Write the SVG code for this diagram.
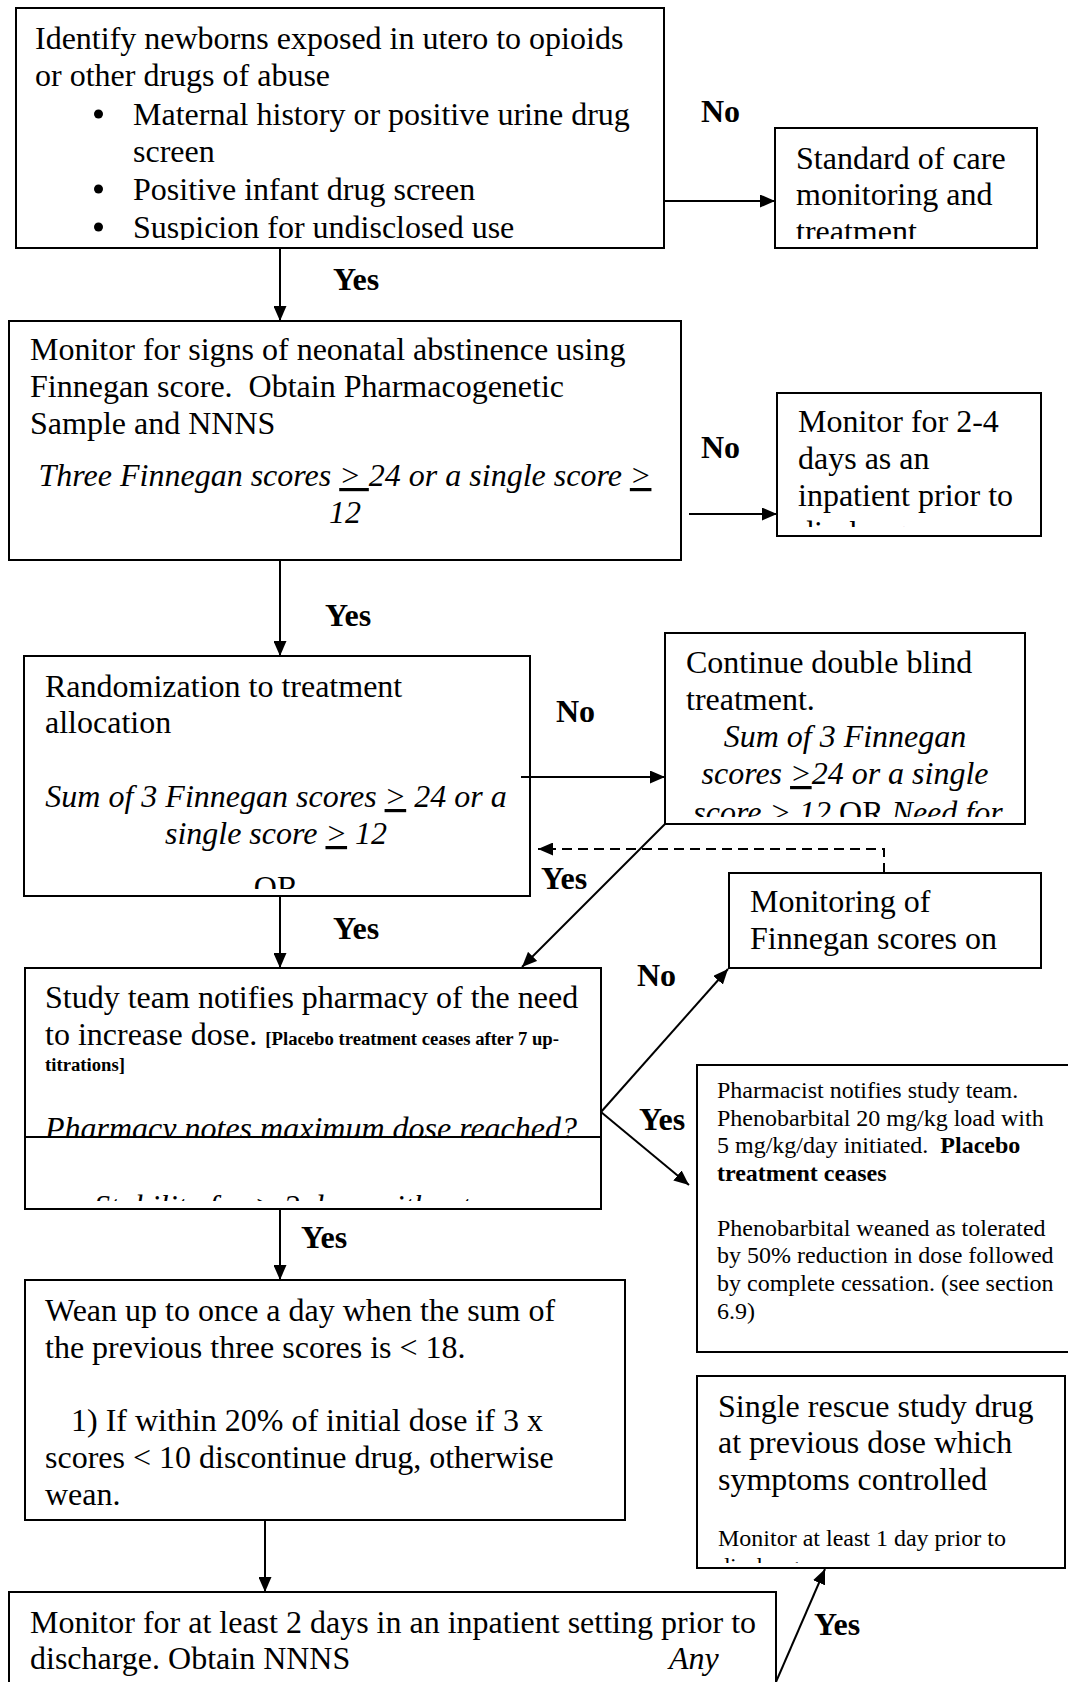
<svg xmlns="http://www.w3.org/2000/svg" width="1068" height="1682" viewBox="0 0 1068 1682">
<style>
.box{fill:#fff;stroke:#000;stroke-width:2}
.t{font-family:"Liberation Serif","Times New Roman",serif;font-size:32px;fill:#000}
.i{font-style:italic}
.b{font-weight:bold}
.s24{font-size:24px}
.s19{font-size:18.7px}
.bul{fill:#000}
.mid{text-anchor:middle}
.lbl{font-family:"Liberation Serif","Times New Roman",serif;font-size:32px;font-weight:bold;fill:#000}
.ln{stroke:#000;stroke-width:2;fill:none}
.dash{stroke-dasharray:10 6}
.u{text-decoration:underline}
</style>
<defs>
<marker id="ah" viewBox="0 0 15 13" refX="15" refY="6.5" markerWidth="15" markerHeight="13" markerUnits="userSpaceOnUse" orient="auto"><path d="M0,0 L15,6.5 L0,13 z" fill="#000"/></marker>
<clipPath id="cp1"><rect x="16" y="8" width="648" height="232"/></clipPath>
<clipPath id="cp12"><rect x="775" y="128" width="262" height="111"/></clipPath>
<clipPath id="cp13"><rect x="777" y="393" width="264" height="134"/></clipPath>
<clipPath id="cp3"><rect x="24" y="656" width="506" height="233"/></clipPath>
<clipPath id="cp4"><rect x="665" y="633" width="360" height="184"/></clipPath>
<clipPath id="cp7"><rect x="25" y="1137" width="576" height="64"/></clipPath>
<clipPath id="cp11"><rect x="697" y="1376" width="368" height="187"/></clipPath>
</defs>

<g id="n1">
<rect class="box" x="16" y="8" width="648" height="240"/>
<g clip-path="url(#cp1)">
<text class="t" x="35" y="49">Identify newborns exposed in utero to opioids</text>
<text class="t" x="35" y="86">or other drugs of abuse</text>
<circle class="bul" cx="98.5" cy="114" r="4.5"/>
<text class="t" x="133" y="125">Maternal history or positive urine drug</text>
<text class="t" x="133" y="162">screen</text>
<circle class="bul" cx="98.5" cy="189" r="4.5"/>
<text class="t" x="133" y="200">Positive infant drug screen</text>
<circle class="bul" cx="98.5" cy="227" r="4.5"/>
<text class="t" x="133" y="238">Suspicion for undisclosed use</text>
</g>
</g>

<g id="n12">
<rect class="box" x="775" y="128" width="262" height="120"/>
<g clip-path="url(#cp12)">
<text class="t" x="796" y="169">Standard of care</text>
<text class="t" x="796" y="205">monitoring and</text>
<text class="t" x="796" y="242">treatment</text>
</g>
</g>

<g id="n2">
<rect class="box" x="9" y="321" width="672" height="239"/>
<text class="t" x="30" y="360">Monitor for signs of neonatal abstinence using</text>
<text class="t" x="30" y="397">Finnegan score.&#160; Obtain Pharmacogenetic</text>
<text class="t" x="30" y="434">Sample and NNNS</text>
<text class="t i mid" x="345" y="486">Three Finnegan scores <tspan class="u">&gt; </tspan>24 or a single score <tspan class="u">&gt;</tspan></text>
<text class="t i mid" x="345" y="523">12</text>
</g>

<g id="n13">
<rect class="box" x="777" y="393" width="264" height="143"/>
<g clip-path="url(#cp13)">
<text class="t" x="798" y="432">Monitor for 2-4</text>
<text class="t" x="798" y="469">days as an</text>
<text class="t" x="798" y="506">inpatient prior to</text>
<text class="t" x="798" y="543">discharge</text>
</g>
</g>

<g id="n3">
<rect class="box" x="24" y="656" width="506" height="240"/>
<g clip-path="url(#cp3)">
<text class="t" x="45" y="697">Randomization to treatment</text>
<text class="t" x="45" y="733">allocation</text>
<text class="t i mid" x="276" y="807">Sum of 3 Finnegan scores <tspan class="u">&gt;</tspan> 24 or a</text>
<text class="t i mid" x="276" y="844">single score <tspan class="u">&gt;</tspan> 12</text>
<text class="t mid" x="276" y="898">OR</text>
</g>
</g>

<g id="n4">
<rect class="box" x="665" y="633" width="360" height="191"/>
<g clip-path="url(#cp4)">
<text class="t" x="686" y="673">Continue double blind</text>
<text class="t" x="686" y="710">treatment.</text>
<text class="t i mid" x="845" y="747">Sum of 3 Finnegan</text>
<text class="t i mid" x="845" y="784">scores <tspan class="u">&gt;</tspan>24 or a single</text>
<text class="t mid" x="848" y="823"><tspan class="i">score <tspan class="u">&gt;</tspan> 12 </tspan>OR <tspan class="i">Need for</tspan></text>
</g>
</g>

<g id="n5">
<rect class="box" x="729" y="873" width="312" height="95"/>
<text class="t" x="750" y="912">Monitoring of</text>
<text class="t" x="750" y="949">Finnegan scores on</text>
</g>

<g id="n6">
<rect class="box" x="25" y="968" width="576" height="241"/>
<text class="t" x="45" y="1008">Study team notifies pharmacy of the need</text>
<text class="t" x="45" y="1045">to increase dose. <tspan class="b s19">[Placebo treatment ceases after 7 up-</tspan></text>
<text class="t b s19" x="45" y="1071">titrations]</text>
<text class="t i" x="45" y="1139">Pharmacy notes maximum dose reached?</text>
</g>

<g id="n7">
<rect class="box" x="25" y="1137" width="576" height="72"/>
<g clip-path="url(#cp7)">
<text class="t i" x="94" y="1217">Stability for <tspan class="u">&gt;</tspan> 2 days without</text>
</g>
</g>

<g id="n10">
<rect class="box" x="697" y="1065" width="380" height="287"/>
<text class="t s24" x="717" y="1098">Pharmacist notifies study team.</text>
<text class="t s24" x="717" y="1126">Phenobarbital 20 mg/kg load with</text>
<text class="t s24" x="717" y="1153">5 mg/kg/day initiated.<tspan dx="12" class="b">Placebo</tspan></text>
<text class="t s24 b" x="717" y="1181">treatment ceases</text>
<text class="t s24" x="717" y="1236">Phenobarbital weaned as tolerated</text>
<text class="t s24" x="717" y="1263">by 50% reduction in dose followed</text>
<text class="t s24" x="717" y="1291">by complete cessation. (see section</text>
<text class="t s24" x="717" y="1319">6.9)</text>
</g>

<g id="n8">
<rect class="box" x="25" y="1280" width="600" height="240"/>
<text class="t" x="45" y="1321">Wean up to once a day when the sum of</text>
<text class="t" x="45" y="1358">the previous three scores is &lt; 18.</text>
<text class="t" x="71" y="1431">1) If within 20% of initial dose if 3 x</text>
<text class="t" x="45" y="1468">scores &lt; 10 discontinue drug, otherwise</text>
<text class="t" x="45" y="1505">wean.</text>
</g>

<g id="n11">
<rect class="box" x="697" y="1376" width="368" height="192"/>
<g clip-path="url(#cp11)">
<text class="t" x="718" y="1417">Single rescue study drug</text>
<text class="t" x="718" y="1453">at previous dose which</text>
<text class="t" x="718" y="1490">symptoms controlled</text>
<text class="t s24" x="718" y="1546">Monitor at least 1 day prior to</text>
<text class="t s24" x="718" y="1574">discharge</text>
</g>
</g>

<g id="n9">
<rect class="box" x="9" y="1592" width="767" height="120"/>
<text class="t" x="30" y="1633">Monitor for at least 2 days in an inpatient setting prior to</text>
<text class="t" x="30" y="1669">discharge. Obtain NNNS</text>
<text class="t i" x="669" y="1669">Any</text>
</g>

<g id="connectors">
<line class="ln" x1="280" y1="248" x2="280" y2="321" marker-end="url(#ah)"/>
<line class="ln" x1="664" y1="201" x2="775" y2="201" marker-end="url(#ah)"/>
<line class="ln" x1="689" y1="514" x2="777" y2="514" marker-end="url(#ah)"/>
<line class="ln" x1="280" y1="560" x2="280" y2="656" marker-end="url(#ah)"/>
<line class="ln" x1="521" y1="777" x2="665" y2="777" marker-end="url(#ah)"/>
<line class="ln" x1="665" y1="824" x2="522" y2="967" marker-end="url(#ah)"/>
<polyline class="ln dash" points="884,873 884,849 538,849" marker-end="url(#ah)"/>
<line class="ln" x1="280" y1="896" x2="280" y2="968" marker-end="url(#ah)"/>
<line class="ln" x1="601" y1="1112" x2="728" y2="969" marker-end="url(#ah)"/>
<line class="ln" x1="601" y1="1112" x2="689" y2="1185" marker-end="url(#ah)"/>
<line class="ln" x1="280" y1="1209" x2="280" y2="1280" marker-end="url(#ah)"/>
<line class="ln" x1="265" y1="1520" x2="265" y2="1592" marker-end="url(#ah)"/>
<line class="ln" x1="776" y1="1682" x2="825" y2="1569" marker-end="url(#ah)"/>
</g>

<g id="labels">
<text class="lbl" x="701" y="122">No</text>
<text class="lbl" x="333" y="290">Yes</text>
<text class="lbl" x="701" y="458">No</text>
<text class="lbl" x="325" y="626">Yes</text>
<text class="lbl" x="556" y="722">No</text>
<text class="lbl" x="541" y="889">Yes</text>
<text class="lbl" x="333" y="939">Yes</text>
<text class="lbl" x="637" y="986">No</text>
<text class="lbl" x="639" y="1130">Yes</text>
<text class="lbl" x="301" y="1248">Yes</text>
<text class="lbl" x="814" y="1635">Yes</text>
</g>
</svg>
